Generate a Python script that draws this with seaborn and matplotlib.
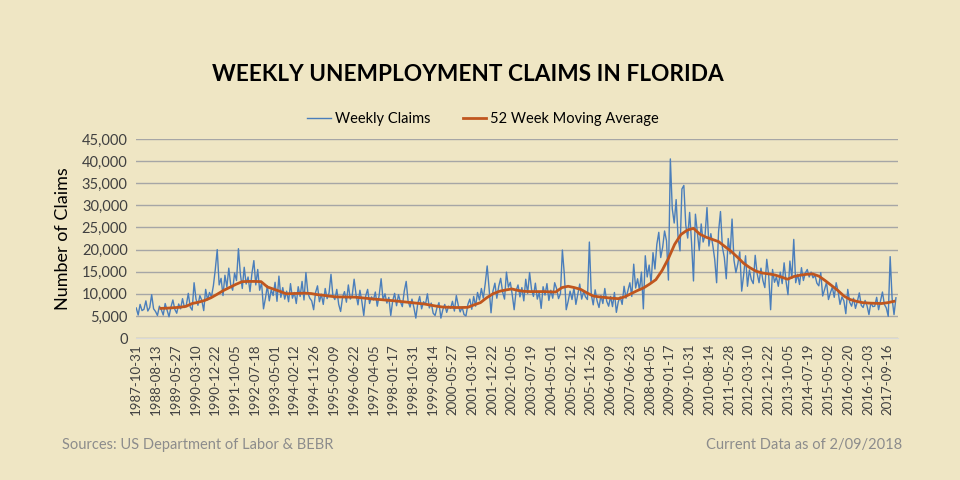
import numpy as np
import pandas as pd
import matplotlib
matplotlib.use("Agg")
import matplotlib.pyplot as plt
import matplotlib.ticker as mticker
import seaborn as sns

weekly_claims = [
    6800, 5200, 7600, 6200, 6500, 8400, 6100, 6900, 9800, 6600, 6000, 5100, 7200,
    6400, 5200, 7800, 6300, 4800, 7000, 8600, 6500, 5600, 7700, 6600, 8900, 6900,
    7500, 10100, 7000, 6300, 12500, 8800, 7400, 9600, 8500, 6200, 11000, 8600, 10300,
    9300, 11800, 15500, 20000, 12000, 13500, 9600, 14200, 11500, 15800, 12000, 10800, 14700,
    13000, 20200, 14500, 11200, 16000, 12200, 13800, 10500, 14600, 17500, 12000, 15500, 10800,
    12500, 6600, 9000, 11800, 8400, 10900, 9600, 12600, 8300, 14000, 9200, 11400, 8800,
    10600, 8200, 12300, 9000, 10300, 7800, 11600, 9400, 12800, 8600, 14800, 10200, 9000,
    8400, 6400, 10300, 11800, 8200, 9900, 7600, 11200, 8900, 10200, 14400, 9500, 8700,
    11000, 7600, 6000, 9200, 10500, 8100, 12000, 8800, 9600, 13300, 9800, 7500, 10800,
    8300, 5100, 9500, 11000, 7800, 9300, 8600, 10400, 7200, 9700, 13400, 8600, 10000,
    7900, 9200, 5100, 8400, 10100, 7300, 9800, 8200, 7100, 10600, 12800, 8300, 7000,
    8800, 6900, 4500, 7800, 9400, 6600, 8200, 7600, 10000, 6800, 7900, 5600, 5100,
    6900, 8000, 4500, 6400, 7600, 5800, 7200, 6700, 8300, 6100, 9600, 7400, 5900,
    7000, 5300, 5000, 7600, 8800, 6500, 9400, 7200, 10300, 8600, 11200, 9000, 12300,
    16300, 11200, 5700, 10600, 12400, 9000, 11700, 13500, 10400, 8800, 14900, 11500, 12600,
    9800, 6400, 10700, 12000, 9300, 11400, 8400, 13300, 10100, 14800, 11000, 9400, 12400,
    8800, 10300, 6700, 11600, 9700, 12300, 8500, 10800, 9000, 12500, 11200, 8900, 10000,
    19900, 14500, 6400, 8300, 10600, 8700, 11400, 7600, 9900, 12200, 8800, 10500, 9300,
    8700, 21700, 9800, 7500, 10900, 8400, 6900, 9600, 7800, 11200, 8300, 7200, 9400,
    7100, 10300, 5800, 8200, 9300, 7600, 11700, 9000, 10800, 12500, 9400, 16700, 11300,
    13400, 10800, 14900, 6600, 18600, 13800, 16500, 12400, 19300, 15600, 21200, 23900, 18200,
    20500, 24200, 22000, 13100, 40500, 29200, 26000, 31300, 22800, 19700, 33700, 34500, 25500,
    22600, 28400, 21500, 12900, 28000, 24000, 19800, 25800, 21700, 23200, 29500, 20800, 23600,
    21000, 17800, 12500, 24000, 28600, 20500, 18200, 13400, 22500, 19000, 26900, 17600, 14800,
    16800, 19500, 10600, 14200, 18600, 11700, 15400, 13200, 12300, 18700, 14600, 12500, 15800,
    13000, 11400, 17800, 14200, 6400, 15500, 12600, 13800, 11700, 14900, 12300, 17000, 12800,
    9800, 17400, 13500, 22300, 12500, 14400, 12100, 15900, 13000, 14700, 15500, 13800, 14900,
    13600, 14200, 12400, 11800, 14800, 9500, 11000, 12600, 8700, 10200, 11500, 9200, 12500,
    10500, 7600, 9300, 8400, 5500, 11000, 8100, 7200, 9000, 6700, 8300, 10200, 7400,
    6900, 8500, 7300, 5300, 8000, 7100, 7200, 9200, 6400, 8400, 10400, 7600, 6800,
    4900, 18400, 9000, 5300, 9100,
]

# 52 week moving average, sampled every 13 weeks from 1988-10-22
moving_avg = [
    6700, 6750, 6850, 6950, 7150, 7800, 8100, 8500, 9100, 9900,
    10750, 11450, 12150, 12750, 12800, 12800, 12750, 11550, 11050, 10550,
    10000, 10050, 10100, 10150, 10050, 9800, 9650, 9450, 9300, 9280,
    9260, 9240, 9100, 8950, 8800, 8700, 8560, 8450, 8300, 8150,
    8000, 7850, 7700, 7450, 7200, 7000, 6950, 6900, 6900, 6950,
    7500, 8000, 9100, 10000, 10550, 10850, 11100, 10750, 10550, 10500,
    10500, 10500, 10450, 10400, 11400, 11700, 11400, 11000, 10200, 9500,
    9300, 9150, 9000, 8900, 9300, 10000, 10700, 11300, 12200, 13200,
    15300, 18000, 21200, 23400, 24400, 24800, 23500, 22800, 22300, 21800,
    20700, 19600, 18300, 16900, 15900, 15100, 14700, 14500, 14250, 13800,
    13300, 13900, 14200, 14400, 14500, 14000, 13000, 11900, 10800, 9500,
    8700, 8300, 8000, 7900, 7850, 7800, 8000, 8300,
]

tick_labels = [
    "1987-10-31", "1988-08-13", "1989-05-27", "1990-03-10", "1990-12-22",
    "1991-10-05", "1992-07-18", "1993-05-01", "1994-02-12", "1994-11-26",
    "1995-09-09", "1996-06-22", "1997-04-05", "1998-01-17", "1998-10-31",
    "1999-08-14", "2000-05-27", "2001-03-10", "2001-12-22", "2002-10-05",
    "2003-07-19", "2004-05-01", "2005-02-12", "2005-11-26", "2006-09-09",
    "2007-06-23", "2008-04-05", "2009-01-17", "2009-10-31", "2010-08-14",
    "2011-05-28", "2012-03-10", "2012-12-22", "2013-10-05", "2014-07-19",
    "2015-05-02", "2016-02-20", "2016-12-03", "2017-09-16",
]

start = pd.Timestamp("1987-10-31")
weekly_df = pd.DataFrame({
    "date": pd.date_range(start, periods=len(weekly_claims), freq="28D"),
    "claims": weekly_claims,
})
ma_df = pd.DataFrame({
    "date": pd.date_range(start + pd.Timedelta(weeks=51), periods=len(moving_avg), freq="91D"),
    "claims": moving_avg,
})
tick_dates = pd.to_datetime(tick_labels)

bg = "#EFE6C4"
plt.rcParams["font.family"] = ["Lato", "DejaVu Sans"]

fig = plt.figure(figsize=(9.6, 4.8), dpi=100, facecolor=bg)
ax = fig.add_axes([0.1417, 0.2958, 0.7933, 0.4146])
ax.set_facecolor(bg)

sns.lineplot(data=weekly_df, x="date", y="claims", ax=ax, color="#4A7EBB",
             linewidth=1.0, label="Weekly Claims")
sns.lineplot(data=ma_df, x="date", y="claims", ax=ax, color="#C0561E",
             linewidth=2.0, label="52 Week Moving Average")

ax.set_ylim(0, 45000)
ax.set_yticks(range(0, 45001, 5000))
ax.yaxis.set_major_formatter(mticker.FuncFormatter(lambda v, p: f"{int(v):,}"))
ax.set_xlim(start - pd.Timedelta(days=3), pd.Timestamp("2018-02-03") + pd.Timedelta(days=3))
ax.set_xticks(tick_dates)
ax.set_xticklabels(tick_labels, rotation=90, fontsize=9.5, color="#404040")
ax.tick_params(axis="y", labelsize=10.5, colors="#404040", length=0, pad=6)
ax.tick_params(axis="x", length=0, pad=4)
ax.grid(axis="y", color="#A6A6A6", linewidth=1)
ax.set_axisbelow(True)
for s in ["top", "right", "left"]:
    ax.spines[s].set_visible(False)
ax.spines["bottom"].set_color("#D9D9D9")
ax.set_xlabel("")
ax.set_ylabel("Number of Claims", fontsize=13, color="#000000", labelpad=8)

ax.legend(loc="lower center", bbox_to_anchor=(0.456, 1.0), ncol=2, frameon=False,
          fontsize=10.5, handlelength=1.6, columnspacing=2.2, handletextpad=0.3)

fig.text(0.487, 0.845, "WEEKLY UNEMPLOYMENT CLAIMS IN FLORIDA", ha="center", va="center",
         fontsize=16.3, fontweight="bold", color="#000000")
fig.text(0.065, 0.073, "Sources: US Department of Labor & BEBR", ha="left", va="center",
         fontsize=10.5, color="#8C8C8C")
fig.text(0.94, 0.073, "Current Data as of 2/09/2018", ha="right", va="center",
         fontsize=10.5, color="#8C8C8C")

fig.savefig("out.png", dpi=100, facecolor=bg)
